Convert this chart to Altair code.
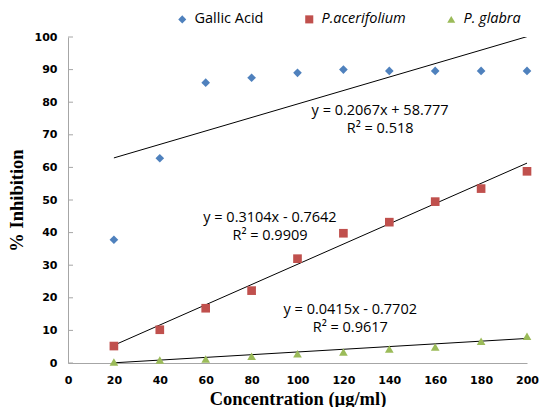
import altair as alt
import pandas as pd

conc = [20, 40, 60, 80, 100, 120, 140, 160, 180, 200]
gallic = [37.8, 62.8, 86.0, 87.5, 89.0, 90.0, 89.6, 89.6, 89.6, 89.6]
acer = [5.2, 10.2, 16.8, 22.2, 32.0, 39.8, 43.2, 49.5, 53.5, 58.8]
glabra = [0.3, 0.9, 1.2, 2.1, 2.8, 3.4, 4.3, 4.9, 6.7, 8.2]

series = ["Gallic Acid", "P.acerifolium", "P. glabra"]
values = [gallic, acer, glabra]
slopes = [0.2067, 0.3104, 0.0415]
intercepts = [58.777, -0.7642, -0.7702]
eq_text = ["y = 0.2067x + 58.777", "y = 0.3104x - 0.7642", "y = 0.0415x - 0.7702"]
r2_text = ["R\u00b2 = 0.518", "R\u00b2 = 0.9909", "R\u00b2 = 0.9617"]
ann_x = [136, 88, 123]
ann_y = [74.4, 41.7, 13.5]
colors = ["#4F81BD", "#C0504D", "#9BBB59"]
shapes = ["diamond", "square", "triangle-up"]
y_ticks = [0, 10, 20, 30, 40, 50, 60, 70, 80, 90, 100]
x_ticks = [0, 20, 40, 60, 80, 100, 120, 140, 160, 180, 200]

pts = pd.DataFrame(
    [{"Series": s, "Concentration": c, "Inhibition": v}
     for s, vals in zip(series, values) for c, v in zip(conc, vals)]
)
trend = pd.DataFrame(
    [{"Series": s, "Concentration": c, "Inhibition": m * c + b}
     for s, m, b in zip(series, slopes, intercepts) for c in (min(conc), max(conc))]
)
ann = pd.DataFrame({"x": ann_x, "y": ann_y, "eq": eq_text, "r2": r2_text})
ticks = pd.DataFrame({"t": y_ticks})

xscale = alt.Scale(domain=[0, 200], nice=False, zero=False)
yscale = alt.Scale(domain=[0, 100], nice=False, zero=False)

xaxis = alt.Axis(values=x_ticks, title="Concentration (\u00b5g/ml)", ticks=False,
                 labelPadding=11, titlePadding=4, labelOverlap=False, labelFlush=False)
yaxis = alt.Axis(values=y_ticks, title="% Inhibition", ticks=False,
                 labelPadding=11, titlePadding=8, labelOverlap=False, labelFlush=False)


def X(field):
    return alt.X(field, scale=xscale, axis=xaxis)


def Y(field):
    return alt.Y(field, scale=yscale, axis=yaxis)


legend = alt.Legend(title=None, orient="none", direction="horizontal",
                    legendX=107, legendY=-25, columnPadding=38,
                    labelFontStyle={"expr": "datum.label == 'Gallic Acid' ? 'normal' : 'italic'"})

points = alt.Chart(pts).mark_point(filled=True, opacity=1, size=75).encode(
    x=X("Concentration:Q"),
    y=Y("Inhibition:Q"),
    color=alt.Color("Series:N", scale=alt.Scale(domain=series, range=colors), legend=legend),
    shape=alt.Shape("Series:N", scale=alt.Scale(domain=series, range=shapes), legend=legend),
)

lines = alt.Chart(trend).mark_line(color="black", strokeWidth=1, clip=True).encode(
    x=X("Concentration:Q"),
    y=Y("Inhibition:Q"),
    detail="Series:N",
)

tickmarks = alt.Chart(ticks).mark_rule(color="#A6A6A6", strokeWidth=1).encode(
    y=Y("t:Q"),
    x=alt.value(0),
    x2=alt.value(5),
)

eq = alt.Chart(ann).mark_text(font="Open Sans", fontSize=14.5, color="black", dy=-9).encode(
    x=X("x:Q"), y=Y("y:Q"), text="eq:N"
)
r2 = alt.Chart(ann).mark_text(font="Open Sans", fontSize=14.5, color="black", dy=9).encode(
    x=X("x:Q"), y=Y("y:Q"), text="r2:N"
)

chart = alt.layer(tickmarks, lines, points, eq, r2).properties(
    width=459, height=326,
    autosize=alt.AutoSizeParams(type="none"),
    padding={"left": 60, "top": 29, "right": 12, "bottom": 44},
).configure_view(stroke=None).configure_axis(
    grid=False, domainColor="#A6A6A6", domainWidth=1,
    labelFont="DejaVu Sans", labelFontWeight="bold", labelFontSize=11, labelColor="#000000",
    titleFont="Liberation Serif", titleFontWeight="bold", titleFontSize=18.5, titleColor="#000000",
).configure_legend(
    labelFont="Open Sans", labelFontSize=14.5, labelColor="#000000", symbolSize=65,
    symbolStrokeWidth=0, padding=0, labelOffset=5,
)

chart.save("out.html", embed_options={"renderer": "svg", "actions": False})
